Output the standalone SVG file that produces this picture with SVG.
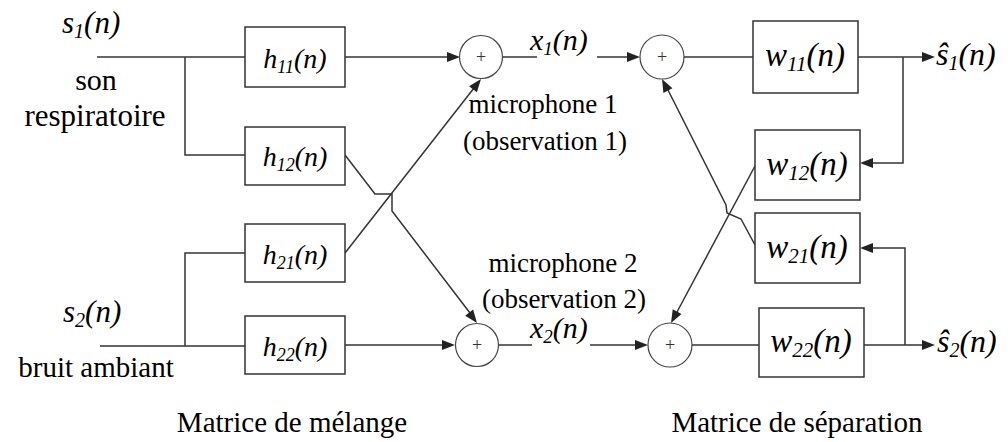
<svg xmlns="http://www.w3.org/2000/svg" width="1008" height="442" viewBox="0 0 1008 442">
<defs>
<style>
.box{fill:#fff;stroke:#333;stroke-width:1.5}
.sum{fill:#fff;stroke:#444;stroke-width:1.2}
.ln{fill:none;stroke:#333;stroke-width:1.5}
.ah{fill:#222;stroke:none}
</style>
</defs>

<g id="connectors">
<path class="ln" d="M97,57 H245"/>
<path class="ln" d="M185,57 V155 H245"/>
<path class="ln" d="M100,346 H245"/>
<path class="ln" d="M185,346 V253 H245"/>
<path class="ln" d="M345,57 H450"/>
<polygon class="ah" points="447,52 460,57 447,62"/>
<path class="ln" d="M345,345 H445"/>
<polygon class="ah" points="442,340 455,345 442,350"/>
<path class="ln" d="M345,253 L474,88"/>
<polygon class="ah" points="476.9,92.3 481,79 469.1,86.2"/>
<path class="ln" d="M345,155 L375,194 H392 V211 L470,313"/>
<polygon class="ah" points="465.2,315.7 477,323 473.1,309.6"/>
<path class="ln" d="M503,57 H537"/>
<path class="ln" d="M597,57 H630"/>
<polygon class="ah" points="627,52 640,57 627,62"/>
<path class="ln" d="M498,345 H532"/>
<path class="ln" d="M590,345 H638"/>
<polygon class="ah" points="635,340 648,345 635,350"/>
<path class="ln" d="M684,57 H753"/>
<path class="ln" d="M692,345 H759"/>
<path class="ln" d="M858,57 H925"/>
<polygon class="ah" points="922,52 935,57 922,62"/>
<path class="ln" d="M903,57 V163 H870"/>
<polygon class="ah" points="873,158 860,163 873,168"/>
<path class="ln" d="M864,345 H925"/>
<polygon class="ah" points="922,340 935,345 922,350"/>
<path class="ln" d="M905,345 V248 H870"/>
<polygon class="ah" points="873,243 860,248 873,253"/>
<path class="ln" d="M755,166 L677,312"/>
<polygon class="ah" points="672.7,309.2 671,323 681.5,313.9"/>
<path class="ln" d="M755,245 L741,219 L727,213 L726,205 L668,90"/>
<polygon class="ah" points="672.4,88.3 662,79 663.4,92.9"/>
</g>

<g id="h11"><rect class="box" x="245" y="27" width="100" height="60"/>
<text font-family="Times New Roman, Liberation Serif, serif" font-style="italic" x="295" y="68" font-size="28" text-anchor="middle">h<tspan font-size="18" dy="5">11</tspan><tspan dy="-5">(n)</tspan></text></g>
<g id="h12"><rect class="box" x="245" y="127" width="100" height="58"/>
<text font-family="Times New Roman, Liberation Serif, serif" font-style="italic" x="295" y="166" font-size="28" text-anchor="middle">h<tspan font-size="18" dy="5">12</tspan><tspan dy="-5">(n)</tspan></text></g>
<g id="h21"><rect class="box" x="245" y="224" width="100" height="58"/>
<text font-family="Times New Roman, Liberation Serif, serif" font-style="italic" x="295" y="264" font-size="28" text-anchor="middle">h<tspan font-size="18" dy="5">21</tspan><tspan dy="-5">(n)</tspan></text></g>
<g id="h22"><rect class="box" x="245" y="316" width="100" height="58"/>
<text font-family="Times New Roman, Liberation Serif, serif" font-style="italic" x="295" y="356" font-size="28" text-anchor="middle">h<tspan font-size="18" dy="5">22</tspan><tspan dy="-5">(n)</tspan></text></g>

<g id="sum1"><circle class="sum" cx="481" cy="57" r="21.5"/><text font-family="Times New Roman, Liberation Serif, serif" font-size="18" fill="#333" text-anchor="middle" x="481" y="63">+</text></g>
<g id="sum2"><circle class="sum" cx="477" cy="345" r="21.5"/><text font-family="Times New Roman, Liberation Serif, serif" font-size="18" fill="#333" text-anchor="middle" x="477" y="351">+</text></g>
<g id="sum3"><circle class="sum" cx="662" cy="57" r="22"/><text font-family="Times New Roman, Liberation Serif, serif" font-size="18" fill="#333" text-anchor="middle" x="662" y="63">+</text></g>
<g id="sum4"><circle class="sum" cx="670" cy="345" r="22"/><text font-family="Times New Roman, Liberation Serif, serif" font-size="18" fill="#333" text-anchor="middle" x="670" y="351">+</text></g>

<g id="w11"><rect class="box" x="753" y="21" width="105" height="72"/>
<text font-family="Times New Roman, Liberation Serif, serif" font-style="italic" x="805" y="66" font-size="33" text-anchor="middle">w<tspan font-size="21" dy="5">11</tspan><tspan dy="-5">(n)</tspan></text></g>
<g id="w12"><rect class="box" x="755" y="130" width="105" height="70"/>
<text font-family="Times New Roman, Liberation Serif, serif" font-style="italic" x="807" y="175" font-size="33" text-anchor="middle">w<tspan font-size="21" dy="5">12</tspan><tspan dy="-5">(n)</tspan></text></g>
<g id="w21"><rect class="box" x="755" y="213" width="105" height="70"/>
<text font-family="Times New Roman, Liberation Serif, serif" font-style="italic" x="807" y="258" font-size="33" text-anchor="middle">w<tspan font-size="21" dy="5">21</tspan><tspan dy="-5">(n)</tspan></text></g>
<g id="w22"><rect class="box" x="759" y="308" width="105" height="69"/>
<text font-family="Times New Roman, Liberation Serif, serif" font-style="italic" x="811" y="352" font-size="33" text-anchor="middle">w<tspan font-size="21" dy="5">22</tspan><tspan dy="-5">(n)</tspan></text></g>

<g id="labels">
<text font-family="Times New Roman, Liberation Serif, serif" font-style="italic" x="62" y="33" font-size="31">s<tspan font-size="20" dy="5">1</tspan><tspan dy="-5">(n)</tspan></text>
<text font-family="Times New Roman, Liberation Serif, serif" x="96" y="90" font-size="30" text-anchor="middle">son</text>
<text font-family="Times New Roman, Liberation Serif, serif" x="95" y="126" font-size="31" text-anchor="middle">respiratoire</text>
<text font-family="Times New Roman, Liberation Serif, serif" font-style="italic" x="63" y="322" font-size="31">s<tspan font-size="20" dy="5">2</tspan><tspan dy="-5">(n)</tspan></text>
<text font-family="Times New Roman, Liberation Serif, serif" x="96" y="377" font-size="29" text-anchor="middle">bruit ambiant</text>
<text font-family="Times New Roman, Liberation Serif, serif" font-style="italic" x="530" y="50" font-size="30">x<tspan font-size="19" dy="5">1</tspan><tspan dy="-5">(n)</tspan></text>
<text font-family="Times New Roman, Liberation Serif, serif" font-style="italic" x="530" y="338" font-size="30">x<tspan font-size="19" dy="5">2</tspan><tspan dy="-5">(n)</tspan></text>
<text font-family="Times New Roman, Liberation Serif, serif" x="543" y="113" font-size="27" text-anchor="middle">microphone 1</text>
<text font-family="Times New Roman, Liberation Serif, serif" x="545" y="150" font-size="27" text-anchor="middle">(observation 1)</text>
<text font-family="Times New Roman, Liberation Serif, serif" x="563" y="272" font-size="27" text-anchor="middle">microphone 2</text>
<text font-family="Times New Roman, Liberation Serif, serif" x="564" y="308" font-size="27" text-anchor="middle">(observation 2)</text>
<text font-family="Times New Roman, Liberation Serif, serif" font-style="italic" x="936" y="65" font-size="32">ŝ<tspan font-size="20" dy="5">1</tspan><tspan dy="-5">(n)</tspan></text>
<text font-family="Times New Roman, Liberation Serif, serif" font-style="italic" x="937" y="352" font-size="32">ŝ<tspan font-size="20" dy="5">2</tspan><tspan dy="-5">(n)</tspan></text>
<text font-family="Times New Roman, Liberation Serif, serif" x="292" y="432" font-size="29" text-anchor="middle">Matrice de mélange</text>
<text font-family="Times New Roman, Liberation Serif, serif" x="797" y="432" font-size="29" text-anchor="middle">Matrice de séparation</text>
</g>
</svg>
